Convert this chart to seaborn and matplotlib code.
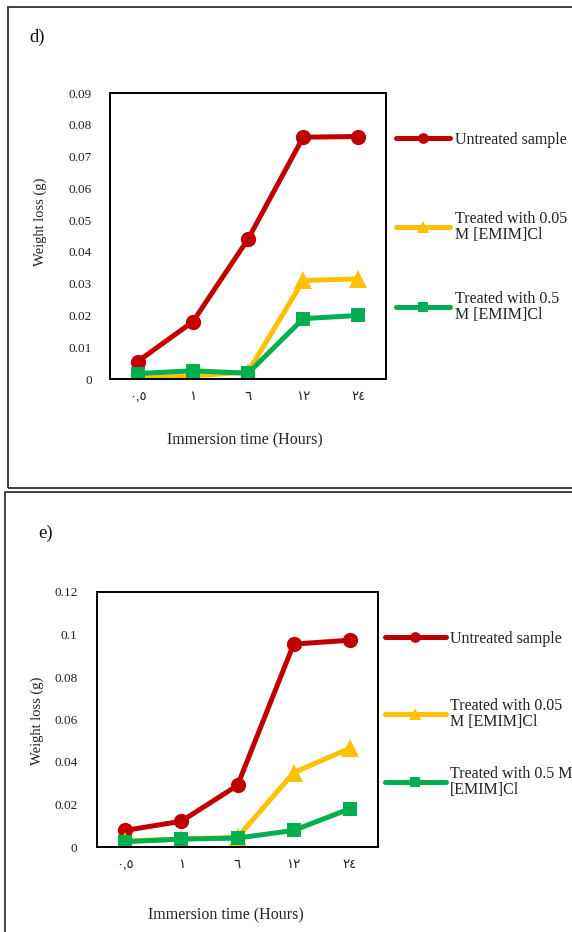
import numpy as np
import pandas as pd
import matplotlib
matplotlib.use("Agg")
import matplotlib.pyplot as plt
import seaborn as sns
from matplotlib.patches import Rectangle
from matplotlib.ticker import FixedLocator

# ---------------- data ----------------
times = ["٠,٥", "١", "٦", "١٢", "٢٤"]
series_names = ["Untreated sample", "Treated with 0.05\nM [EMIM]Cl", "Treated with 0.5\nM [EMIM]Cl"]
series_names_e = ["Untreated sample", "Treated with 0.05\nM [EMIM]Cl", "Treated with 0.5 M\n[EMIM]Cl"]

d_untreated = [0.0055, 0.018, 0.044, 0.0761, 0.0763]
d_t005 = [0.0003, 0.0010, 0.0022, 0.0310, 0.0315]
d_t05 = [0.0017, 0.0026, 0.0018, 0.0190, 0.0200]

e_untreated = [0.0078, 0.0121, 0.0290, 0.0955, 0.0973]
e_t005 = [0.0028, 0.0038, 0.0045, 0.0350, 0.0465]
e_t05 = [0.0025, 0.0037, 0.0042, 0.0078, 0.0180]

d_yticks = [0, 0.01, 0.02, 0.03, 0.04, 0.05, 0.06, 0.07, 0.08, 0.09]
e_yticks = [0, 0.02, 0.04, 0.06, 0.08, 0.1, 0.12]

colors = ["#C00000", "#FFC000", "#00B050"]
markers = ["o", "^", "s"]
msizes = [11, 12.5, 10.5]

sns.set_style("white")
plt.rcParams["font.family"] = ["Liberation Serif", "DejaVu Sans"]

W, H = 572, 932
fig = plt.figure(figsize=(W / 100, H / 100), dpi=100)


def fx(px):
    return px / W


def fy(py):
    return 1 - py / H


# panel frames
fig.patches.append(Rectangle((fx(8), fy(488)), fx(600 - 8), (488 - 7) / H,
                             transform=fig.transFigure, fill=False, lw=1.3, ec="#333333"))
fig.patches.append(Rectangle((fx(5), fy(960)), fx(600 - 5), (960 - 492) / H,
                             transform=fig.transFigure, fill=False, lw=1.3, ec="#333333"))


def draw_panel(box, values, names, yticks, ymax, letter, letter_xy,
               ylab_xy, xlab_xy, leg_x, leg_ys, handlelen, textpad, ytick_in, ypad):
    l, b, r, t = box
    ax = fig.add_axes([fx(l), fy(b), fx(r - l), (b - t) / H])
    for vals, name, c, m, ms in zip(values, names, colors, markers, msizes):
        df = pd.DataFrame({"time": times, "loss": vals})
        sns.lineplot(data=df, x="time", y="loss", ax=ax, color=c, marker=m,
                     markersize=ms, markeredgecolor=c, markeredgewidth=0,
                     linewidth=3.6, label=name, sort=False)
    ax.set_xlim(-0.5, 4.5)
    ax.set_ylim(0, ymax)
    ax.set_xticks(range(len(times)))
    ax.set_xticklabels(times, fontsize=9.5, family=["Liberation Serif", "DejaVu Sans"])
    ax.xaxis.set_minor_locator(FixedLocator([0.5, 1.5, 2.5, 3.5]))
    ax.tick_params(axis="x", which="major", length=0, pad=9, colors="#222222")
    ax.tick_params(axis="x", which="minor", direction="in", length=5, width=1.3, color="black")
    ax.set_yticks(yticks)
    ax.set_yticklabels([f"{v:g}" for v in yticks], fontsize=9.5)
    if ytick_in:
        ax.tick_params(axis="y", direction="in", length=3, width=1.0, pad=ypad, labelcolor="#222222")
    else:
        ax.tick_params(axis="y", length=0, pad=ypad, labelcolor="#222222")
    for s in ax.spines.values():
        s.set_visible(True)
        s.set_color("black")
        s.set_linewidth(1.4)
    ax.set_xlabel("Immersion time (Hours)", fontsize=11.5, color="#222222")
    ax.set_ylabel("Weight loss (g)", fontsize=10.5, color="#222222")
    ax.xaxis.label.set_va("center")
    ax.yaxis.label.set_va("center")
    ax.xaxis.set_label_coords((xlab_xy[0] - l) / (r - l), (b - xlab_xy[1]) / (b - t))
    ax.yaxis.set_label_coords((ylab_xy[0] - l) / (r - l), (b - ylab_xy[1]) / (b - t))
    handles, labels = ax.get_legend_handles_labels()
    ax.get_legend().remove()
    for h, lab, y in zip(handles, labels, leg_ys):
        leg = fig.legend([h], [lab], loc="center left", bbox_to_anchor=(fx(leg_x), fy(y)),
                         frameon=False, borderpad=0, borderaxespad=0,
                         handlelength=handlelen, handletextpad=textpad,
                         fontsize=11.5, markerscale=0.7, labelspacing=0.2)
        for txt in leg.get_texts():
            txt.set_color("#222222")
            txt.set_linespacing(1.05)
    fig.text(fx(letter_xy[0]), fy(letter_xy[1]), letter, fontsize=13.5,
             ha="left", va="center", color="#111111")
    return ax


draw_panel((110, 379, 386, 93), [d_untreated, d_t005, d_t05], series_names, d_yticks, 0.09,
           "d)", (29, 37), (40, 222), (245, 440), 396, [140, 227, 307], 3.4, 0.3, False, 13)

draw_panel((97, 847, 378, 592), [e_untreated, e_t005, e_t05], series_names_e, e_yticks, 0.12,
           "e)", (38, 533), (37, 721), (226, 915), 385, [639, 714, 782], 3.8, 0.25, True, 14)

fig.savefig("out.png", dpi=100)
